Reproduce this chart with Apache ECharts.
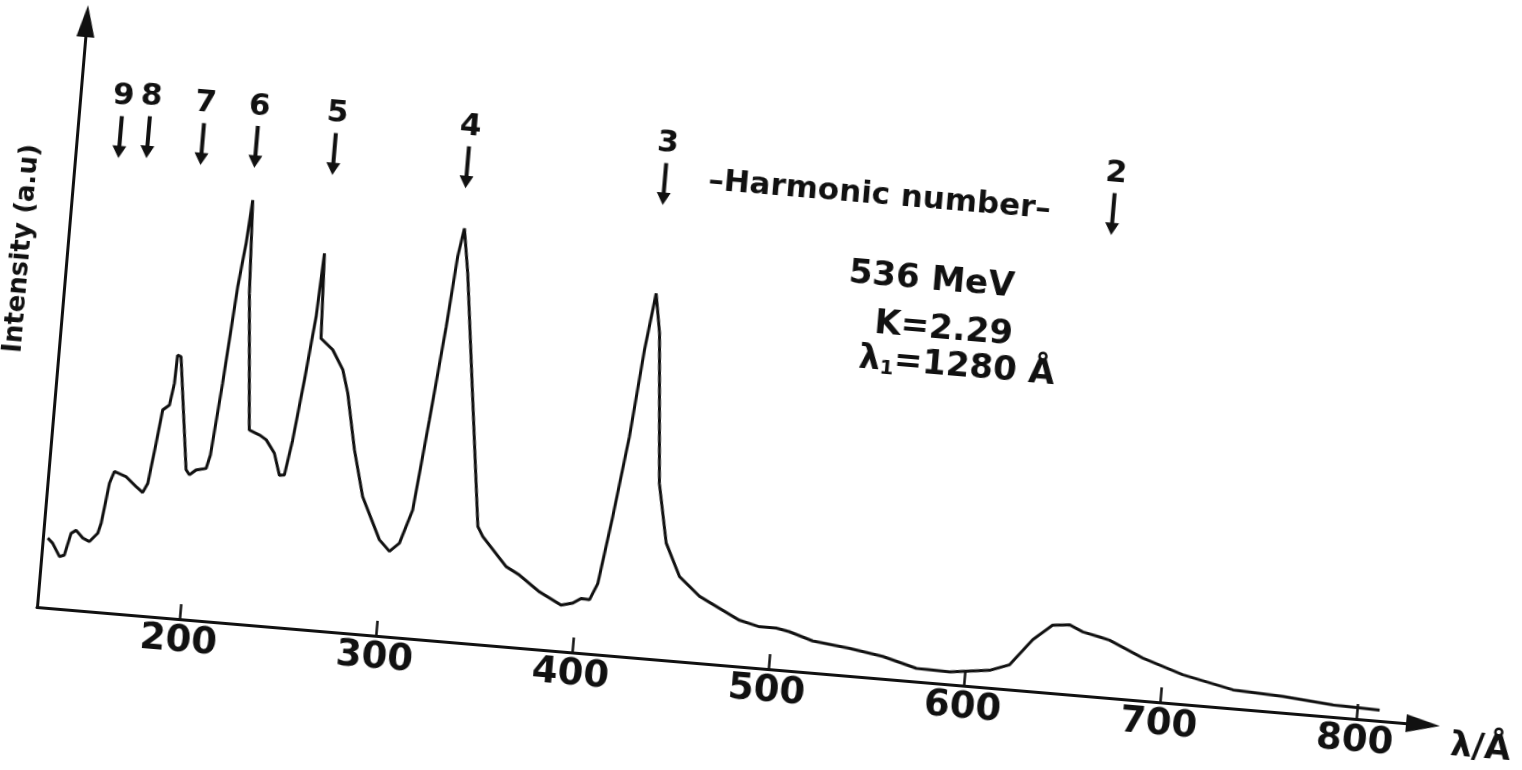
<!DOCTYPE html>
<html>
<head>
<meta charset="utf-8">
<title>Harmonic spectrum</title>
<script src="https://cdn.jsdelivr.net/npm/echarts@6/dist/echarts.min.js"></script>
<style>
html, body {
  margin: 0;
  padding: 0;
  width: 1522px;
  height: 770px;
  overflow: hidden;
  background: #fff;
}
/* the scan is tilted, so the whole plot is turned about the axis origin */
#main {
  position: absolute;
  left: -100px;
  top: -50px;
  width: 1700px;
  height: 850px;
  transform-origin: 137px 657px;
  transform: rotate(4.85deg);
}
</style>
</head>
<body>
<div id="main"></div>
<script>
// wavelength (Å) and intensity (a.u.)
var wavelength = [
  129.5, 132.2, 136.2, 138.6, 141.1, 143.5, 147.2, 150.7, 154.6, 155.9,
  158.4, 160.4, 166.5, 172.0, 175.6, 177.8, 180.3, 182.2, 185.4, 187.0,
  187.4, 189.2, 196.6, 198.5, 201.7, 206.7, 208.3, 211.4, 214.9, 217.3,
  218.8, 221.1, 226.9, 232.3, 235.9, 240.6, 244.1, 246.6, 249.3, 252.7,
  255.9, 257.4, 259.3, 265.7, 271.7, 275.2, 281.0, 287.2, 297.5, 303.1,
  307.8, 313.1, 317.7, 322.2, 325.0, 327.2, 330.8, 338.8, 346.8, 349.7,
  362.9, 370.0, 380.8, 392.4, 398.2, 402.2, 406.5, 410.0, 414.7, 419.7,
  423.6, 427.1, 430.5, 436.9, 442.9, 451.1, 462.1, 472.7, 483.3, 493.7,
  502.3, 509.1, 521.3, 540.2, 557.5, 574.9, 592.0, 612.1, 622.0, 632.7,
  642.2, 650.7, 657.7, 666.4, 671.6, 689.2, 710.2, 736.2, 761.8, 787.5, 811.4
]
var intensity = [
  11.6, 10.8, 8.7, 9.0, 12.7, 13.3, 12.1, 11.6, 13.1, 14.8,
  21.6, 23.6, 22.9, 21.4, 20.5, 22.1, 28.9, 34.5, 35.4, 39.1,
  43.8, 43.6, 24.9, 24.1, 25.0, 25.4, 27.7, 39.8, 56.0, 63.4,
  70.6, 55.1, 32.4, 31.7, 31.0, 28.9, 25.3, 25.4, 31.3, 41.5,
  52.2, 62.8, 48.6, 46.9, 43.7, 39.9, 30.6, 22.9, 16.0, 14.2,
  15.7, 21.4, 36.6, 52.3, 64.1, 68.9, 61.5, 40.5, 19.6, 18.0,
  13.3, 12.1, 9.6, 7.7, 8.2, 9.1, 9.0, 11.8, 23.1, 36.6,
  51.2, 60.8, 54.3, 29.3, 19.5, 14.1, 11.1, 9.4, 7.7, 6.9,
  6.9, 6.5, 5.3, 4.6, 3.7, 2.2, 2.1, 2.9, 4.1, 8.6,
  11.3, 11.6, 10.6, 10.0, 9.6, 7.1, 4.9, 3.1, 2.7, 2.0, 1.8
]

// x tick labels
var xTicks = [200, 300, 400, 500, 600, 700, 800]

// harmonic number arrows: label, wavelength and height of the arrow tip
var harmonicNames = ['9', '8', '7', '6', '5', '4', '3', '2']
var harmonicWl = [148.9, 163.1, 190.8, 218.2, 258.0, 326.0, 426.6, 655.0]
var harmonicTip = [75.7, 76.1, 75.7, 76.0, 75.9, 75.6, 75.6, 76.9]

// text notes: text, wavelength, intensity of the text centre
var noteTexts = ['\u2013Harmonic number\u2013', '536 MeV', 'K=2.29', '{l|\u03bb}{s|1}{l|=1280 \u00c5}']
var noteWl = [536.0, 566.0, 574.2, 582.4]
var noteI = [80.1, 66.8, 58.8, 52.8]

var ink = '#111111'
var font = 'DejaVu Sans'

var curve = wavelength.map(function(w, i) {
  return [w, intensity[i]]
})
var harmonics = harmonicNames.map(function(n, i) {
  return { name: n, value: [harmonicWl[i], harmonicTip[i]] }
})
var notes = noteTexts.map(function(t, i) {
  return {
    value: [noteWl[i], noteI[i]],
    label: { formatter: t, fontSize: i === 0 ? 31 : 34 }
  }
})

var myChart = echarts.init(document.getElementById('main'), null, { renderer: 'canvas' })

var option = {
  backgroundColor: 'transparent',
  animation: false,
  grid: {
    left: 137,
    top: 69,
    width: 1391,
    height: 588
  },
  xAxis: {
    type: 'value',
    min: 127,
    max: 834,
    name: '\u03bb/\u00c5',
    nameLocation: 'end',
    nameGap: 29,
    nameTextStyle: {
      color: ink,
      fontFamily: font,
      fontWeight: 'bold',
      fontSize: 34,
      verticalAlign: 'top',
      padding: [2, 0, 0, 0]
    },
    axisLine: {
      lineStyle: { color: ink, width: 3 },
      symbol: ['none', 'triangle'],
      symbolSize: [18, 34]
    },
    axisTick: {
      inside: true,
      length: 15,
      customValues: xTicks,
      lineStyle: { color: ink, width: 2.5 }
    },
    axisLabel: {
      customValues: xTicks,
      margin: 4,
      color: ink,
      fontFamily: font,
      fontWeight: 'bold',
      fontSize: 37
    },
    splitLine: { show: false }
  },
  yAxis: {
    type: 'value',
    min: 0,
    max: 98,
    name: 'Intensity (a.u)',
    nameLocation: 'middle',
    nameRotate: 90,
    nameGap: 32,
    nameTextStyle: {
      color: ink,
      fontFamily: font,
      fontWeight: 'bold',
      fontSize: 26,
      padding: [0, 0, 0, 124]
    },
    axisLine: {
      show: true,
      lineStyle: { color: ink, width: 3 },
      symbol: ['none', 'triangle'],
      symbolSize: [18, 32]
    },
    axisTick: { show: false },
    axisLabel: { show: false },
    splitLine: { show: false }
  },
  series: [
    {
      name: 'spectrum',
      type: 'line',
      data: curve,
      showSymbol: false,
      smooth: false,
      lineStyle: { color: ink, width: 3 }
    },
    {
      name: 'harmonics',
      type: 'scatter',
      data: harmonics,
      symbol: 'path://M5,0 L9,0 L9,31 L14,31 L7,44 L0,31 L5,31 Z',
      symbolSize: [14, 42],
      symbolOffset: [0, '-50%'],
      itemStyle: { color: ink, opacity: 1 },
      label: {
        show: true,
        position: 'top',
        distance: 4,
        formatter: '{b}',
        color: ink,
        fontFamily: font,
        fontWeight: 'bold',
        fontSize: 31
      },
      silent: true
    },
    {
      name: 'notes',
      type: 'scatter',
      data: notes,
      symbolSize: 0,
      itemStyle: { opacity: 1 },
      label: {
        show: true,
        position: 'inside',
        color: ink,
        fontFamily: font,
        fontWeight: 'bold',
        rich: {
          l: { fontFamily: font, fontWeight: 'bold', fontSize: 34, color: ink },
          s: { fontFamily: font, fontWeight: 'bold', fontSize: 20, color: ink, padding: [16, 0, 0, 0] }
        }
      },
      silent: true
    }
  ]
}

option && myChart.setOption(option)
</script>
</body>
</html>
